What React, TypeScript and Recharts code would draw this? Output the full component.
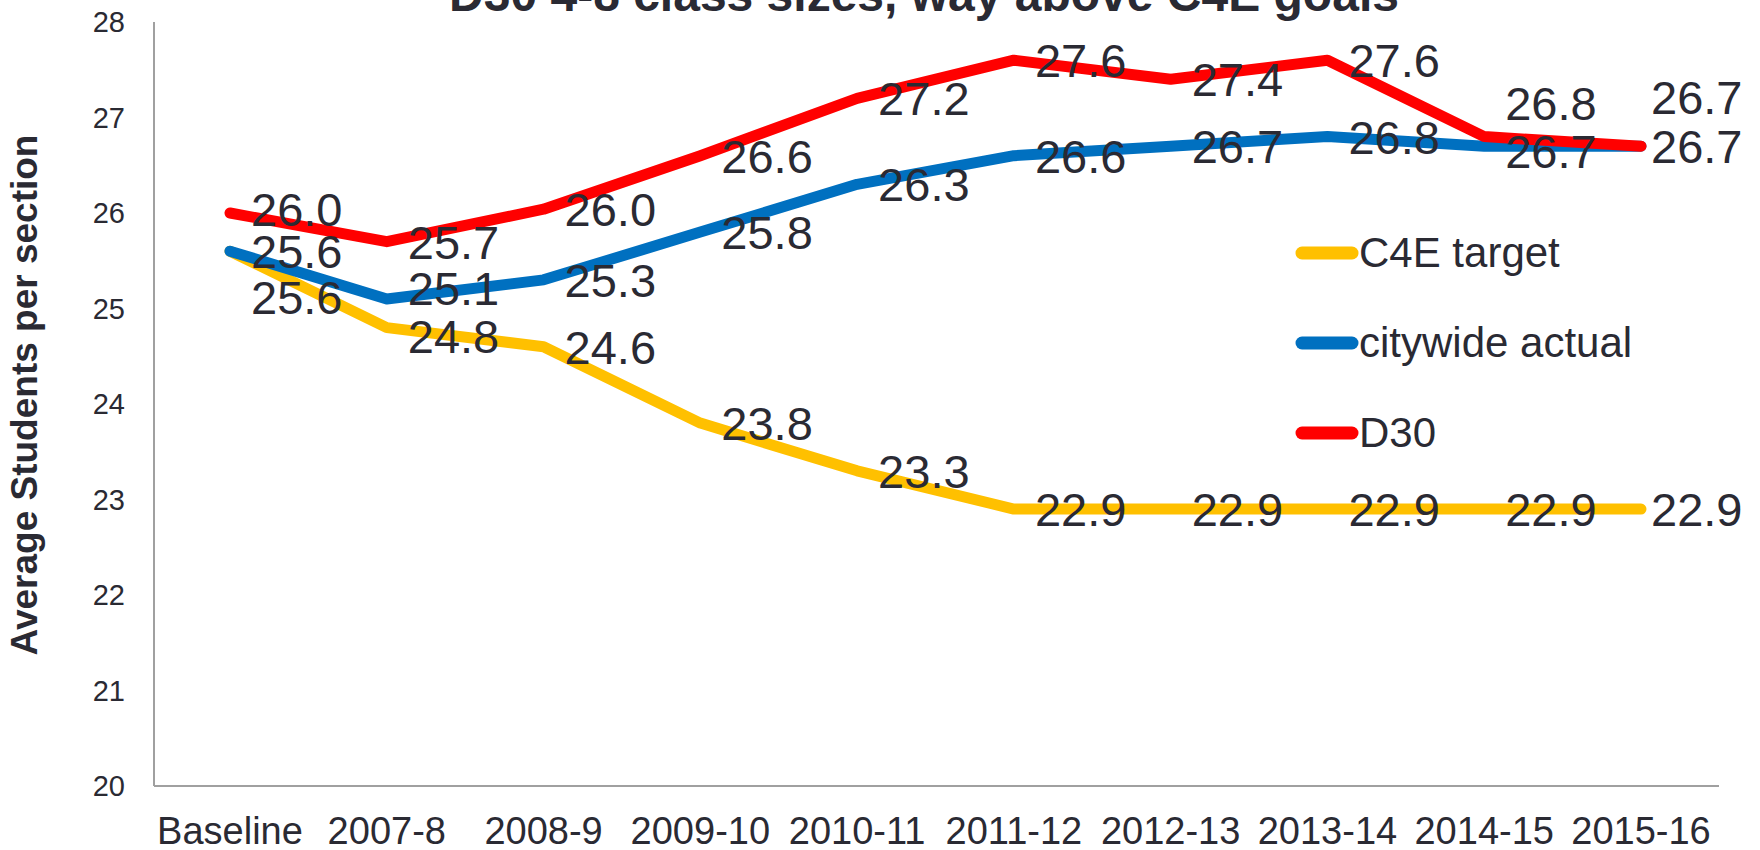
import { LineChart, Line, XAxis, YAxis, Legend, LabelList } from 'recharts';

const CATEGORIES = ['Baseline', '2007-8', '2008-9', '2009-10', '2010-11', '2011-12', '2012-13', '2013-14', '2014-15', '2015-16'];
const C4E_TARGET = [25.6, 24.8, 24.6, 23.8, 23.3, 22.9, 22.9, 22.9, 22.9, 22.9];
const CITYWIDE_ACTUAL = [25.6, 25.1, 25.3, 25.8, 26.3, 26.6, 26.7, 26.8, 26.7, 26.7];
const D30 = [26.0, 25.7, 26.04, 26.6, 27.2, 27.6, 27.4, 27.6, 26.8, 26.7];
const Y_TICKS = [20, 21, 22, 23, 24, 25, 26, 27, 28];

const data = CATEGORIES.map((name, i) => ({
    name,
    c4e: C4E_TARGET[i],
    city: CITYWIDE_ACTUAL[i],
    d30: D30[i],
}));

const FONT = '"Liberation Sans", Arial, sans-serif';
const TEXT = '#2a2a33';
const AXIS = '#a0a0a0';

const SERIES = [
    { key: 'c4e', name: 'C4E target', color: '#FFC000' },
    { key: 'city', name: 'citywide actual', color: '#0070C0' },
    { key: 'd30', name: 'D30', color: '#FF0000' },
];

// hand-placed label nudges (vertical, px) like in the original deck
const LABEL_DY: Record<string, number[]> = {
    c4e: [46, 8, 0, 0, 0, 0, 0, 0, 0, 0],
    city: [0, -11, 0, 0, 0, 0, 0, 0, 5, 0],
    d30: [-4, 0, 0, 0, 0, 0, 0, 0, -34, -49],
};

const makeLabel = (key: string) => (props: any) => {
    const { x, y, value, index } = props;
    const last = index === CATEGORIES.length - 1;
    return (
        <text
            x={x + (last ? 10 : 21)}
            y={y + 17 + (LABEL_DY[key][index] || 0)}
            fontSize={47}
            fontFamily={FONT}
            fill={TEXT}
        >
            {Number(value).toFixed(1)}
        </text>
    );
};

const YTick = (props: any) => {
    const { y, payload } = props;
    return (
        <text x={125} y={y + 10} textAnchor="end" fontSize={29} fontFamily={FONT} fill={TEXT}>
            {payload.value}
        </text>
    );
};

const XTick = (props: any) => {
    const { x, payload } = props;
    return (
        <text x={x} y={844} textAnchor="middle" fontSize={38} fontFamily={FONT} fill={TEXT}>
            {payload.value}
        </text>
    );
};

const renderLegend = () => (
    <div style={{ fontFamily: FONT }}>
        {SERIES.map((s) => (
            <div key={s.key} style={{ height: 90, display: 'flex', alignItems: 'center' }}>
                <svg width={64} height={14} style={{ display: 'block' }}>
                    <line x1={7} y1={7} x2={57} y2={7} stroke={s.color} strokeWidth={13} strokeLinecap="round" />
                </svg>
                <span style={{ fontSize: 42, color: TEXT, whiteSpace: 'nowrap' }}>{s.name}</span>
            </div>
        ))}
    </div>
);

export default function App() {
    return (
        <div style={{ position: 'absolute', left: 0, top: 0, width: 1760, height: 850, background: '#fff' }}>
            <LineChart
                width={1760}
                height={850}
                data={data}
                margin={{ top: 22, right: 41, bottom: 0, left: 54 }}
            >
                <XAxis
                    dataKey="name"
                    height={64}
                    padding={{ left: 76, right: 78 }}
                    axisLine={{ stroke: AXIS, strokeWidth: 2 }}
                    tickLine={false}
                    tick={<XTick />}
                    interval={0}
                />
                <YAxis
                    width={100}
                    domain={[20, 28]}
                    ticks={Y_TICKS}
                    axisLine={{ stroke: AXIS, strokeWidth: 2 }}
                    tickLine={false}
                    tick={<YTick />}
                    interval={0}
                />
                {SERIES.map((s) => (
                    <Line
                        key={s.key}
                        type="linear"
                        dataKey={s.key}
                        name={s.name}
                        stroke={s.color}
                        strokeWidth={11}
                        strokeLinecap="round"
                        strokeLinejoin="round"
                        dot={false}
                        activeDot={false}
                        isAnimationActive={false}
                    />
                ))}
                {SERIES.map((s) => (
                    <Line
                        key={s.key + '-labels'}
                        dataKey={s.key}
                        stroke="none"
                        dot={false}
                        activeDot={false}
                        legendType="none"
                        isAnimationActive={false}
                    >
                        <LabelList dataKey={s.key} content={makeLabel(s.key)} />
                    </Line>
                ))}
                <Legend
                    layout="vertical"
                    align="center"
                    verticalAlign="middle"
                    content={renderLegend}
                    wrapperStyle={{ position: 'absolute', left: 1295, top: 208, width: 420 }}
                />
            </LineChart>
            <svg
                width={1760}
                height={850}
                style={{ position: 'absolute', left: 0, top: 0, pointerEvents: 'none' }}
            >
                <text x={924} y={11} textAnchor="middle" fontSize={48} fontWeight="bold" fontFamily={FONT} fill={TEXT}>
                    D30 4-8 class sizes, way above C4E goals
                </text>
                <text
                    x={37}
                    y={395}
                    transform="rotate(-90 37 395)"
                    textAnchor="middle"
                    fontSize={37}
                    fontWeight="bold"
                    fontFamily={FONT}
                    fill={TEXT}
                >
                    Average Students per section
                </text>
            </svg>
        </div>
    );
}
